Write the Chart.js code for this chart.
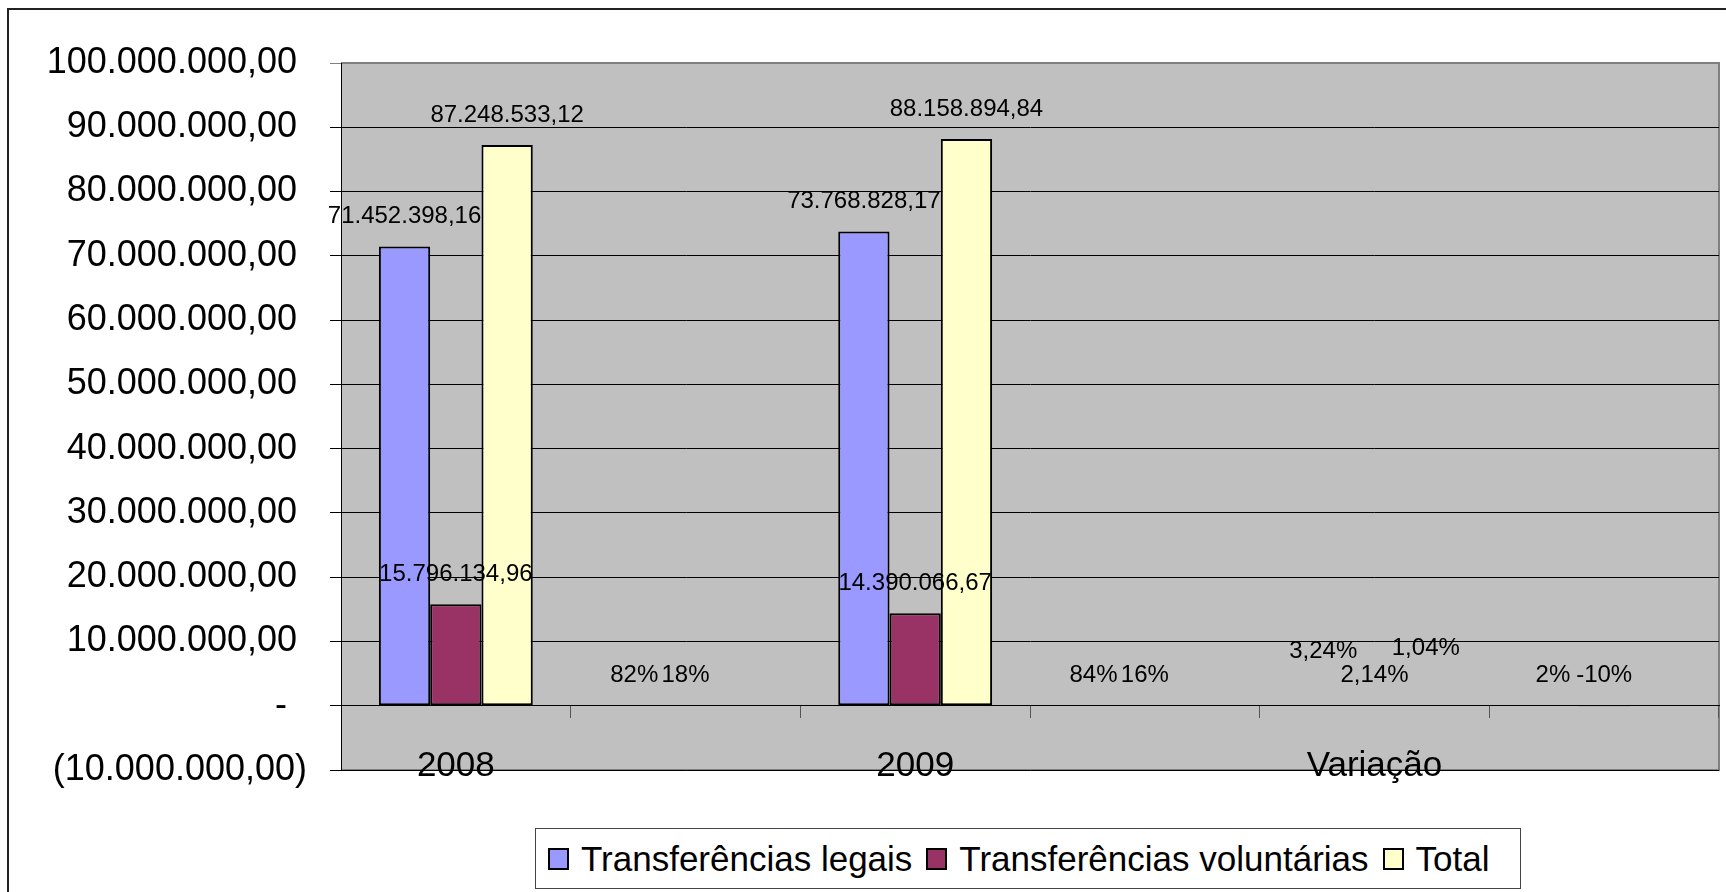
<!DOCTYPE html>
<html>
<head>
<meta charset="utf-8">
<script src="https://cdn.jsdelivr.net/npm/chart.js@4/dist/chart.umd.min.js"></script>
<style>
  body { margin: 0; overflow: hidden; background: #fff; font-family: "Liberation Sans", Arial, sans-serif; }
  #moldura { position: absolute; left: 7px; top: 8px; width: 1800px; height: 1000px; border: 2px solid #222; }
  #grafico { position: absolute; left: 0; top: 0; }
  #legenda { position: absolute; left: 535px; top: 828px; width: 986px; height: 61px; border: 1px solid #444;
             background: #fff; display: flex; align-items: center; padding-left: 12px; box-sizing: border-box; }
  #legenda .item { display: flex; align-items: center; font-size: 35px; color: #000; margin-right: 14px; white-space: nowrap; }
  #legenda .caixa { width: 17px; height: 18px; border: 2px solid #000; margin-right: 12px; }
</style>
</head>
<body>
<div id="moldura"></div>
<canvas id="grafico" width="1726" height="892"></canvas>
<div id="legenda"></div>
<script>
var categorias = ["2008", "", "2009", "", "Variação", ""];
var legais = [71452398.16, 0.82, 73768828.17, 0.84, 0.0324, 0.02];
var voluntarias = [15796134.96, 0.18, 14390066.67, 0.16, 0.0214, -0.10];
var totais = [87248533.12, null, 88158894.84, null, 0.0104, null];
var nomes = ["Transferências legais", "Transferências voluntárias", "Total"];
var cores = ["#9999FF", "#993366", "#FFFFCC"];
var eixoMin = -10000000, eixoMax = 100000000, passo = 10000000;

// ajuste manual de alguns rotulos (como no original)
var deslocRotulo = { "0-4": -24, "2-4": -27 };

function formataReal(v) {
    var partes = Math.abs(v).toFixed(2).split(".");
    var inteiro = partes[0].replace(/\B(?=(\d{3})+(?!\d))/g, ".");
    return inteiro + "," + partes[1];
}

function formataPct(v) {
    var p = Math.round(v * 10000) / 100;
    var s = Number.isInteger(p) ? String(p) : p.toFixed(2).replace(".", ",");
    return s + "%";
}

function rotuloValor(v) {
    return Math.abs(v) < 1 ? formataPct(v) : formataReal(v);
}

const fundoArea = {
    id: "fundoArea",
    beforeDraw(chart) {
        const a = chart.chartArea, ctx = chart.ctx;
        ctx.save();
        ctx.fillStyle = "#C0C0C0";
        ctx.fillRect(a.left, a.top, a.right - a.left, a.bottom - a.top);
        ctx.strokeStyle = "#808080";
        ctx.lineWidth = 2;
        ctx.beginPath();
        ctx.moveTo(a.left, a.top);
        ctx.lineTo(a.right, a.top);
        ctx.lineTo(a.right, a.bottom);
        ctx.lineTo(a.left, a.bottom);
        ctx.stroke();
        ctx.restore();
    }
};

const rotulos = {
    id: "rotulos",
    afterDatasetsDraw(chart) {
        const ctx = chart.ctx;
        ctx.save();
        ctx.font = '24px "Liberation Sans", Arial, sans-serif';
        ctx.fillStyle = "#000";
        ctx.textAlign = "center";
        ctx.textBaseline = "middle";
        chart.data.datasets.forEach((ds, i) => {
            chart.getDatasetMeta(i).data.forEach((bar, j) => {
                const v = ds.data[j];
                if (v === null || v === undefined) return;
                const topo = Math.min(bar.y, bar.base);
                const y = topo - 30 + (deslocRotulo[i + "-" + j] || 0);
                ctx.fillText(rotuloValor(v), bar.x, y);
            });
        });
        ctx.restore();
    }
};

const grafico = new Chart("grafico", {
    type: "bar",
    data: {
        labels: categorias,
        datasets: [
            { label: nomes[0], data: legais, backgroundColor: cores[0] },
            { label: nomes[1], data: voluntarias, backgroundColor: cores[1] },
            { label: nomes[2], data: totais, backgroundColor: cores[2] }
        ]
    },
    options: {
        responsive: false,
        animation: false,
        categoryPercentage: 0.67,
        barPercentage: 1,
        datasets: {
            bar: { borderColor: "#000", borderWidth: 2, borderSkipped: false }
        },
        layout: { padding: { left: 0, top: 63, right: 7, bottom: 122 } },
        plugins: {
            legend: { display: false },
            tooltip: { enabled: false }
        },
        scales: {
            x: {
                position: { y: 0 },
                grid: { drawOnChartArea: false, drawTicks: true, tickLength: 12, color: "#555", offset: true },
                border: { display: true, color: "#000", width: 1 },
                ticks: { color: "#000", padding: 28, font: { size: 35, family: '"Liberation Sans", Arial, sans-serif' } }
            },
            y: {
                min: eixoMin,
                max: eixoMax,
                afterFit: (escala) => { escala.width = 341; },
                grid: {
                    color: (c) => (c.tick && c.tick.value === eixoMax) ? "#808080" : "#000",
                    tickLength: 11
                },
                border: { display: true, color: "#000", width: 1 },
                ticks: {
                    stepSize: passo,
                    padding: 23,
                    color: "#000",
                    font: { size: 36, family: '"Liberation Sans", Arial, sans-serif' },
                    callback: (v) => {
                        if (v === 0) return "-  ";
                        if (v < 0) return "(" + formataReal(v) + ")";
                        return formataReal(v) + " ";
                    }
                }
            }
        }
    },
    plugins: [fundoArea, rotulos]
});

// legenda em HTML, montada a partir dos datasets
const legenda = document.getElementById("legenda");
grafico.data.datasets.forEach((ds) => {
    const item = document.createElement("span");
    item.className = "item";
    const caixa = document.createElement("span");
    caixa.className = "caixa";
    caixa.style.background = ds.backgroundColor;
    item.appendChild(caixa);
    item.appendChild(document.createTextNode(ds.label));
    legenda.appendChild(item);
});
</script>
</body>
</html>
